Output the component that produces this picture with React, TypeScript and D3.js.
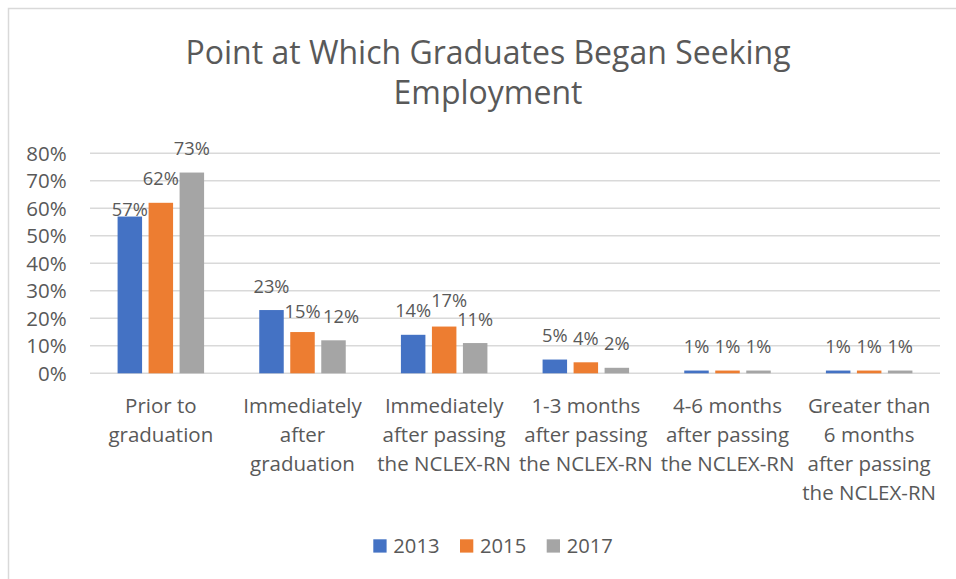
import React from "react";
import * as d3 from "d3";

const title = ["Point at Which Graduates Began Seeking", "Employment"];
const categories = [
  ["Prior to", "graduation"],
  ["Immediately", "after", "graduation"],
  ["Immediately", "after passing", "the NCLEX-RN"],
  ["1-3 months", "after passing", "the NCLEX-RN"],
  ["4-6 months", "after passing", "the NCLEX-RN"],
  ["Greater than", "6 months", "after passing", "the NCLEX-RN"],
];
const seriesNames = ["2013", "2015", "2017"];
const values2013 = [0.57, 0.23, 0.14, 0.05, 0.01, 0.01];
const values2015 = [0.62, 0.15, 0.17, 0.04, 0.01, 0.01];
const values2017 = [0.73, 0.12, 0.11, 0.02, 0.01, 0.01];
const yTicks = [0, 0.1, 0.2, 0.3, 0.4, 0.5, 0.6, 0.7, 0.8];

const colors = ["#4472C4", "#ED7D31", "#A5A5A5"];
// label nudges (dx, dy) keyed by "category-series"
const labelNudges: Record<string, [number, number]> = {
  "0-0": [0, 17],
  "1-1": [0, 3.5],
  "1-2": [7.5, 0],
  "2-1": [5, -2.5],
};

const W = 956;
const H = 579;
const TEXT = "#595959";
const FONT = "'Open Sans', sans-serif";

export default function App() {
  const series = [values2013, values2015, values2017];
  const x0 = d3
    .scaleBand<number>()
    .domain(categories.map((_, i) => i))
    .range([90, 940])
    .paddingInner(0.3894)
    .paddingOuter(0.3894 / 2);
  const x1 = d3
    .scaleBand<number>()
    .domain(seriesNames.map((_, i) => i))
    .range([0, x0.bandwidth()])
    .paddingInner(0.21)
    .paddingOuter(0);
  const y = d3.scaleLinear().domain([0, 0.8]).range([373.3, 153.3]);
  const fmt = d3.format(".0%");

  const legendX = d3
    .scalePoint<number>()
    .domain(seriesNames.map((_, i) => i))
    .range([373.3, 546.7]);

  return (
    <svg
      width={W}
      height={H}
      style={{ position: "absolute", left: 0, top: 0, background: "#fff" }}
      fontFamily={FONT}
    >
      <rect x={0} y={0} width={W} height={H} fill="#fff" />
      <rect
        x={8.5}
        y={8.5}
        width={W + 10}
        height={H + 10}
        fill="none"
        stroke="#D9D9D9"
        strokeWidth={1.5}
      />
      {title.map((t, i) => (
        <text
          key={i}
          x={488}
          y={63.5 + i * 40.7}
          textAnchor="middle"
          fontSize={32}
          fill={TEXT}
        >
          {t}
        </text>
      ))}
      {yTicks.map((t) => (
        <g key={t}>
          <line
            x1={90}
            x2={940}
            y1={y(t)}
            y2={y(t)}
            stroke="#D9D9D9"
            strokeWidth={1.5}
          />
          <text
            x={66.7}
            y={y(t)}
            dy="0.36em"
            textAnchor="end"
            fontSize={20.5}
            fill={TEXT}
          >
            {fmt(t)}
          </text>
        </g>
      ))}
      {categories.map((_, ci) =>
        series.map((vals, si) => {
          const bx = (x0(ci) as number) + (x1(si) as number);
          const v = vals[ci];
          return (
            <rect
              key={`${ci}-${si}`}
              x={bx}
              y={y(v)}
              width={x1.bandwidth()}
              height={y(0) - y(v)}
              fill={colors[si]}
            />
          );
        })
      )}
      {categories.map((_, ci) =>
        series.map((vals, si) => {
          const bx = (x0(ci) as number) + (x1(si) as number) + x1.bandwidth() / 2;
          const v = vals[ci];
          const n = labelNudges[`${ci}-${si}`] || [0, 0];
          return (
            <text
              key={`l${ci}-${si}`}
              x={bx + n[0]}
              y={y(v) - 17.5 + n[1]}
              textAnchor="middle"
              fontSize={18.3}
              fill={TEXT}
            >
              {fmt(v)}
            </text>
          );
        })
      )}
      {categories.map((lines, ci) => (
        <text
          key={`c${ci}`}
          x={(x0(ci) as number) + x0.bandwidth() / 2}
          y={412.7}
          textAnchor="middle"
          fontSize={20.5}
          fill={TEXT}
        >
          {lines.map((ln, li) => (
            <tspan key={li} x={(x0(ci) as number) + x0.bandwidth() / 2} y={412.7 + li * 29}>
              {ln}
            </tspan>
          ))}
        </text>
      ))}
      {seriesNames.map((s, si) => (
        <g key={s}>
          <rect
            x={legendX(si) as number}
            y={539.3}
            width={13.3}
            height={13.3}
            fill={colors[si]}
          />
          <text
            x={(legendX(si) as number) + 20}
            y={552.7}
            fontSize={20.2}
            fill={TEXT}
          >
            {s}
          </text>
        </g>
      ))}
    </svg>
  );
}
